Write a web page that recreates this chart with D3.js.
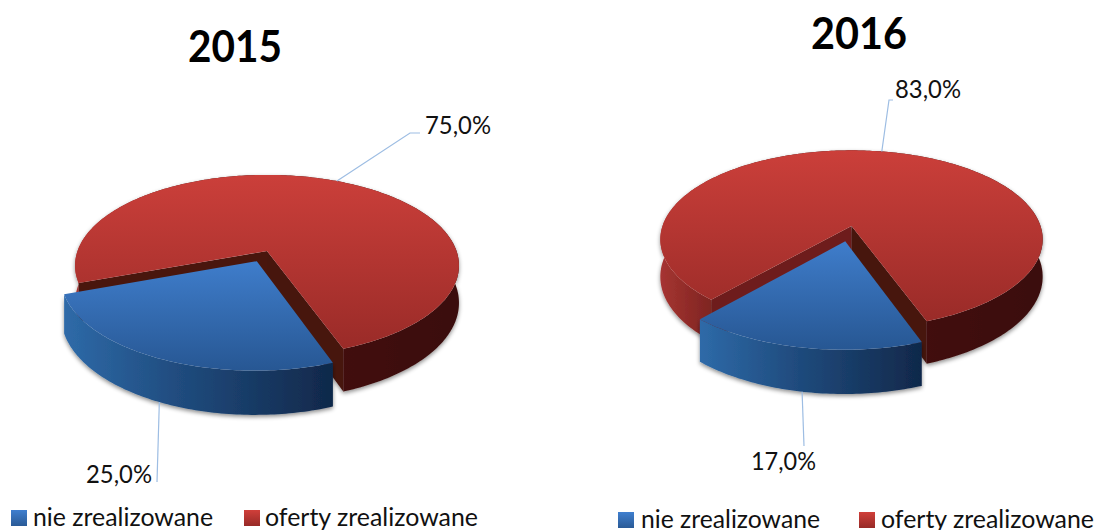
<!DOCTYPE html>
<html><head><meta charset="utf-8">
<script src="https://cdn.jsdelivr.net/npm/d3@7/dist/d3.min.js"></script>
<style>html,body{margin:0;padding:0;background:#fff;overflow:hidden}svg{display:block}text{font-family:Lato,"Open Sans",sans-serif;fill:#111}</style>
</head><body><svg id="c" width="1099" height="530"></svg>
<script>
const categories = ["nie zrealizowane", "oferty zrealizowane"];
const years = ["2015", "2016"];
const values2015 = [25.0, 75.0];
const values2016 = [17.0, 83.0];
const valueLabels2015 = ["25,0%", "75,0%"];
const valueLabels2016 = ["17,0%", "83,0%"];
const startAngleDeg = 160;

const charts = [
 {year:years[0], vals:values2015, labs:valueLabels2015, cx:267, cy:251, R:189.5, S:88.3, k:.16, D:36.4, ex:.125,
  title:{x:188,y:62,w:94},
  leaders:[{via:[[157,482]], t:[86,483,66]},{via:[[410,133],[420,133]], t:[425,134,66]}],
  legend:{y:510,sw:[11,244],tx:[33,265],tw:[180,213],base:526}},
 {year:years[1], vals:values2016, labs:valueLabels2016, cx:851.5, cy:226, R:189, S:87, k:.15, D:36.5, ex:.175,
  title:{x:811,y:49,w:96},
  leaders:[{via:[[804,446]], t:[751,470,65]},{via:[[889,100],[893,100]], t:[895,98,66]}],
  legend:{y:512,sw:[618,859],tx:[641,881],tw:[179,213],base:528}}
];

const svg = d3.select("#c"), defs = svg.append("defs");
const grad=(id,x2,y2,stops)=>{const g=defs.append("linearGradient").attr("id",id).attr("x1",0).attr("y1",0).attr("x2",x2).attr("y2",y2);
  stops.forEach(s=>g.append("stop").attr("offset",s[0]).attr("stop-color",s[1]));};
grad("topB",0,1,[[0,"#3f7dcb"],[1,"#275793"]]);
grad("topR",0,1,[[0,"#cb3f3a"],[1,"#9a2b28"]]);
grad("wallB",1,0,[[0,"#2e6aa8"],[.45,"#1f4a7c"],[1,"#10284a"]]);
grad("wallR",1,0,[[0,"#a63431"],[.13,"#7f2522"],[.3,"#4c1411"],[1,"#3a0e0c"]]);
grad("swB",0,1,[[0,"#3f7fcf"],[1,"#2a5a96"]]);
grad("swR",0,1,[[0,"#d03f3a"],[1,"#972a27"]]);
const f=defs.append("filter").attr("id","sh").attr("x","-10%").attr("y","-10%").attr("width","120%").attr("height","125%");
f.append("feDropShadow").attr("dx",0).attr("dy",2).attr("stdDeviation",2).attr("flood-color","#000").attr("flood-opacity",.45);

const line = d3.line();
const colorKey = ["B","R"];

charts.forEach(c=>{
  const pie = d3.pie().sort(null).startAngle(startAngleDeg*Math.PI/180).endAngle((startAngleDeg+360)*Math.PI/180);
  const arcs = pie(c.vals);
  const proj=(u,v,z=0)=>{const w=1-c.k*v; return [c.cx+c.R*u/w, c.cy+c.S*v/w+z*c.D/w];};
  const g = svg.append("g");
  [1,0].forEach(i=>{
    const a=arcs[i], mid=(a.startAngle+a.endAngle)/2, e=i===0?c.ex:0;
    const ou=e*Math.sin(mid), ov=-e*Math.cos(mid);
    const n=Math.ceil((a.endAngle-a.startAngle)*60);
    const angs=d3.range(n+1).map(j=>a.startAngle+(a.endAngle-a.startAngle)*j/n);
    const rim=z=>angs.map(t=>proj(ou+Math.sin(t),ov-Math.cos(t),z));
    const apex=z=>proj(ou,ov,z);
    const sl=g.append("g").attr("filter","url(#sh)");
    sl.append("path").attr("d",line(rim(0).concat(rim(1).reverse()))+"Z").attr("fill",`url(#wall${colorKey[i]})`);
    if(i===1){
      const r0=rim(0),r1=rim(1);
      sl.append("path").attr("d",line([apex(0),r0[0],r1[0],apex(1)])+"Z").attr("fill",c.year==="2016"?"#6e1f1c":"#4a1411");
      sl.append("path").attr("d",line([apex(0),r0[n],r1[n],apex(1)])+"Z").attr("fill","#461310");
    }
    g.append("path").attr("d",line([apex(0)].concat(rim(0)))+"Z").attr("fill",`url(#top${colorKey[i]})`);
  });
  arcs.forEach((a,i)=>{
    const mid=(a.startAngle+a.endAngle)/2, e=i===0?c.ex:0;
    const z=i===0?1:0;
    const st=proj(e*Math.sin(mid)+Math.sin(mid),-e*Math.cos(mid)-Math.cos(mid),z);
    const L=c.leaders[i];
    svg.append("path").attr("d",line([st].concat(L.via))).attr("fill","none").attr("stroke","#9dbde3").attr("stroke-width",1.2);
    svg.append("text").attr("x",L.t[0]).attr("y",L.t[1]).attr("font-size",24.5)
      .attr("textLength",L.t[2]).attr("lengthAdjust","spacingAndGlyphs").text(c.labs[i]);
  });
  svg.append("text").attr("x",c.title.x).attr("y",c.title.y).attr("font-size",44).attr("font-weight",700)
    .attr("textLength",c.title.w).attr("lengthAdjust","spacingAndGlyphs").style("fill","#000").text(c.year);
  categories.forEach((name,i)=>{
    svg.append("rect").attr("x",c.legend.sw[i]).attr("y",c.legend.y).attr("width",16).attr("height",16).attr("fill",`url(#sw${colorKey[i]})`);
    svg.append("text").attr("x",c.legend.tx[i]).attr("y",c.legend.base).attr("font-size",24.5)
      .attr("textLength",c.legend.tw[i]).attr("lengthAdjust","spacingAndGlyphs").text(name);
  });
});
</script></body></html>
